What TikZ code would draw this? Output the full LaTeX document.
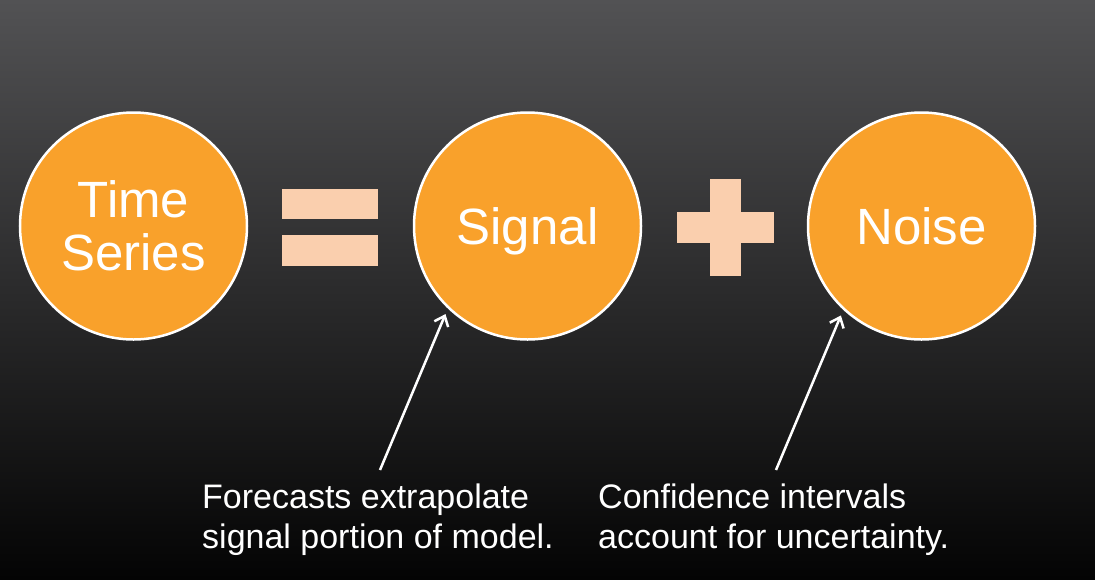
\documentclass[tikz,border=0pt]{standalone}
\usepackage{fontspec}
\setmainfont{Liberation Sans}
\usetikzlibrary{arrows.meta}
\definecolor{bgtop}{RGB}{82,82,84}
\definecolor{bgmid}{RGB}{35,35,35}
\definecolor{bgbot}{RGB}{4,4,4}
\definecolor{discorange}{RGB}{249,161,43}
\definecolor{peach}{RGB}{250,207,174}
\tikzset{
  disc/.style={circle, fill=discorange, draw=white, line width=2.5pt,
    minimum size=227pt, inner sep=0pt, text=white, align=center,
    font=\fontsize{51}{53}\selectfont},
  bar/.style={fill=peach, draw=none},
  caption/.style={text=white, align=left, inner sep=0pt, anchor=north west,
    font=\fontsize{34}{40}\selectfont},
  pointer/.style={draw=white, line width=2.5pt,
    -{Straight Barb[length=9pt,width=15pt,line width=2.5pt]}, shorten >=6pt}
}
\begin{document}
\begin{tikzpicture}[x=1pt,y=-1pt]
  % background
  \useasboundingbox (0,0) rectangle (1095,579);
  \shade[top color=bgtop, middle color=bgmid, bottom color=bgbot] (0,0) rectangle (1095,579);

  % the three terms
  \node[disc] (ts) at (133.5,226) {Time\\Series};
  \node[disc, text depth=0pt] (sig) at (527.5,226) {Signal};
  \node[disc, text depth=0pt] (noise) at (921.5,226) {Noise};

  % equals sign
  \fill[bar] (282,189) rectangle (378,219);
  \fill[bar] (282,235) rectangle (378,266);

  % plus sign
  \fill[bar] (710,179) rectangle (741,276);
  \fill[bar] (677,212) rectangle (774,243);

  % captions
  \node[caption] (capsig) at (202,484) {Forecasts extrapolate\\signal portion of model.};
  \node[caption] (capnoise) at (598,484) {Confidence intervals\\account for uncertainty.};

  % pointers
  \coordinate (p1) at (380,470);
  \coordinate (p2) at (776,470);
  \draw[pointer] (p1) -- (sig.226);
  \draw[pointer] (p2) -- (noise.227);
\end{tikzpicture}
\end{document}
